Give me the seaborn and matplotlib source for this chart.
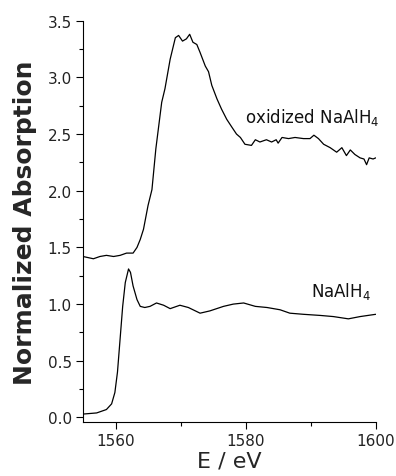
import numpy as np
import pandas as pd
import matplotlib
matplotlib.use("Agg")
import matplotlib.pyplot as plt
import seaborn as sns
from matplotlib.ticker import MultipleLocator

# NaAlH4 spectrum
e_na = [1555.0, 1557.1, 1558.6, 1559.4, 1559.9, 1560.3, 1560.7, 1561.1, 1561.5, 1562.0,
        1562.3, 1562.7, 1563.3, 1563.8, 1564.5, 1565.3, 1566.3, 1567.4, 1568.4, 1569.9,
        1571.2, 1573.0, 1574.5, 1576.6, 1578.1, 1579.7, 1581.5, 1583.3, 1585.3, 1586.8,
        1588.9, 1591.5, 1593.5, 1595.8, 1597.6, 1600.0]
a_na = [0.03, 0.04, 0.07, 0.12, 0.22, 0.40, 0.69, 0.98, 1.19, 1.31,
        1.28, 1.16, 1.04, 0.98, 0.97, 0.98, 1.01, 0.99, 0.96, 0.99,
        0.97, 0.92, 0.94, 0.98, 1.00, 1.01, 0.98, 0.97, 0.95, 0.92,
        0.91, 0.90, 0.89, 0.87, 0.89, 0.91]

# oxidized NaAlH4 spectrum
e_ox = [1555.0, 1555.8, 1556.6, 1557.6, 1558.6, 1559.7, 1560.7, 1561.7, 1562.7, 1563.3,
        1563.8, 1564.3, 1565.0, 1565.6, 1566.2, 1567.1, 1567.6, 1568.4, 1569.2, 1569.7,
        1570.3, 1570.9, 1571.4, 1571.9, 1572.5, 1573.0, 1573.8, 1574.3, 1574.8, 1575.6,
        1576.3, 1577.1, 1577.9, 1578.6, 1579.2, 1579.9, 1580.9, 1581.5, 1582.2, 1583.2,
        1584.0, 1584.7, 1585.0, 1585.6, 1586.6, 1587.6, 1588.9, 1589.9, 1590.5, 1591.2,
        1592.0, 1593.0, 1594.0, 1594.8, 1595.5, 1596.1, 1596.8, 1597.6, 1598.2, 1598.6,
        1599.0, 1599.6, 1600.0]
a_ox = [1.42, 1.41, 1.40, 1.42, 1.43, 1.42, 1.43, 1.45, 1.45, 1.50,
        1.57, 1.66, 1.87, 2.01, 2.37, 2.78, 2.90, 3.16, 3.35, 3.37,
        3.32, 3.34, 3.38, 3.31, 3.29, 3.22, 3.10, 3.05, 2.93, 2.81,
        2.72, 2.63, 2.56, 2.50, 2.47, 2.41, 2.40, 2.45, 2.43, 2.45,
        2.43, 2.45, 2.42, 2.47, 2.46, 2.47, 2.46, 2.46, 2.49, 2.46,
        2.41, 2.38, 2.34, 2.38, 2.31, 2.36, 2.32, 2.29, 2.28, 2.23,
        2.29, 2.28, 2.29]

x_ticks = [1560, 1580, 1600]
y_ticks = [0.0, 0.5, 1.0, 1.5, 2.0, 2.5, 3.0, 3.5]
labels = ["NaAlH$_4$", "oxidized NaAlH$_4$"]

df = pd.concat([
    pd.DataFrame({"E": e_na, "A": a_na, "sample": labels[0]}),
    pd.DataFrame({"E": e_ox, "A": a_ox, "sample": labels[1]}),
])

sns.set_style("ticks")
plt.rcParams["font.family"] = ["DejaVu Sans"]

fig = plt.figure(figsize=(3.96, 4.77), dpi=100)
ax = fig.add_axes([0.2096, 0.1132, 0.7391, 0.8413])

sns.lineplot(data=df, x="E", y="A", units="sample", estimator=None,
             color="black", linewidth=0.9, ax=ax, sort=False)

ax.set_xlim(1555, 1600)
ax.set_ylim(-0.04, 3.5)
ax.set_xticks(x_ticks)
ax.set_yticks(y_ticks)
ax.set_yticklabels([f"{v:.1f}" for v in y_ticks])
ax.xaxis.set_minor_locator(MultipleLocator(10))
ax.yaxis.set_minor_locator(MultipleLocator(0.25))
ax.tick_params(which="major", length=5, width=0.8, labelsize=11, pad=3, color="black", labelcolor="#222222")
ax.tick_params(which="minor", length=3, width=0.8, color="black")
for s in ["top", "right"]:
    ax.spines[s].set_visible(False)
for s in ["left", "bottom"]:
    ax.spines[s].set_linewidth(0.8)
    ax.spines[s].set_color("black")

ax.set_xlabel("E / eV", fontsize=16, labelpad=2)
ax.set_ylabel("Normalized Absorption", fontsize=18, fontweight="bold", labelpad=8)

ax.text(1579.9, 2.61, labels[1], fontsize=12, color="#111111")
ax.text(1590.1, 1.07, labels[0], fontsize=12, color="#111111")

fig.savefig("out.png", dpi=100)
